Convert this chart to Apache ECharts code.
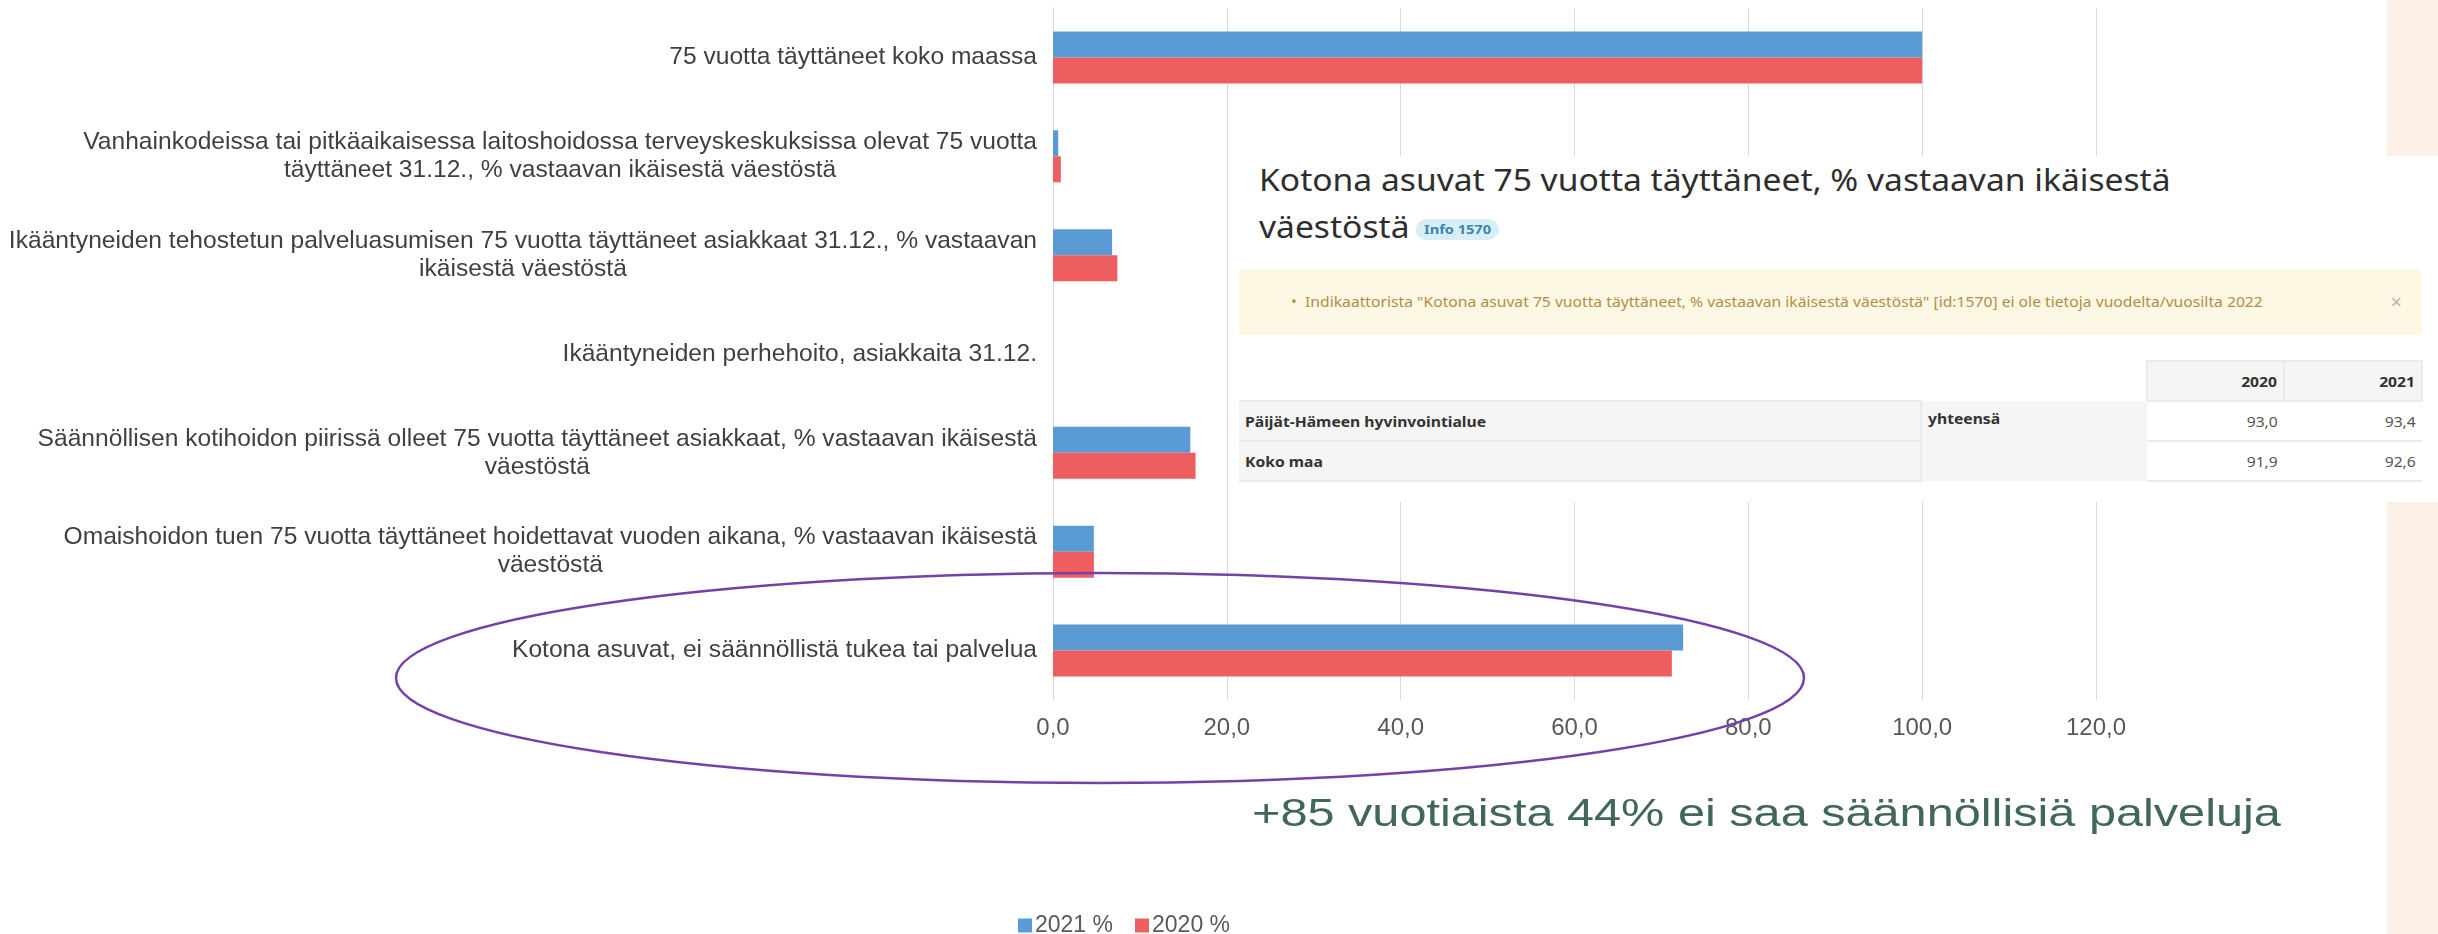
<!DOCTYPE html>
<html>
<head>
<meta charset="utf-8">
<script src="https://cdn.jsdelivr.net/npm/echarts@6/dist/echarts.min.js"></script>
<style>
  html, body { margin: 0; padding: 0; background: #fff; }
  #chart { position: absolute; left: 0; top: 0; width: 2438px; height: 934px; }
  .peach { position: absolute; left: 2387px; width: 51px; background: #fcefe6; }
  #panel {
    position: absolute; left: 1230px; top: 156px; width: 1208px; height: 346px;
    background: #fff; font-family: "Noto Sans", sans-serif; color: #333;
  }
  .sx { display: inline-block; transform: scaleX(1.12); transform-origin: left center; white-space: nowrap; }
  .sxr { display: inline-block; transform: scaleX(1.12); transform-origin: right center; white-space: nowrap; }
  #title {
    position: absolute; left: 29px; top: 0; font-size: 30px; line-height: 47px; white-space: nowrap;
    color: #2e2e2e; transform: scaleX(1.12); transform-origin: left top;
  }
  .badge {
    display: inline-block; font-size: 13px; font-weight: bold; line-height: 21px;
    padding: 0 7px; border-radius: 11px; background: #d9edf7; color: #3a87ad;
    vertical-align: 4px; margin-left: 6px;
  }
  #alert {
    position: absolute; left: 9px; top: 113px; width: 1183px; height: 66px;
    background: #fcf8e3; border-radius: 4px; color: #b48c48; font-size: 14px;
  }
  #alert .msg { position: absolute; left: 52px; top: 0; line-height: 66px; }
  #alert .close { position: absolute; right: 20px; top: 0; line-height: 66px; font-size: 20px; color: #b5b5b5; }
  table {
    position: absolute; left: 9px; top: 204px; border-collapse: collapse; table-layout: fixed;
    font-size: 14px;
  }
  td, th { padding: 0 6px; height: 38px; }
  th { background: #f5f5f5; text-align: right; border: 2px solid #ebebeb; }
  th.blank { background: #fff; border: none; }
  td.lab { background: #f5f5f5; font-weight: bold; border-top: 2px solid #ebebeb; border-bottom: 2px solid #ebebeb; }
  td.grp { background: #f5f5f5; font-weight: bold; vertical-align: top; padding-top: 8px; border-left: 2px solid #ebebeb; }
  td.val { text-align: right; color: #555; border-bottom: 2px solid #ebebeb; }
</style>
</head>
<body>
<div id="chart"></div>
<div class="peach" style="top:0;height:156px"></div>
<div class="peach" style="top:502px;height:432px"></div>
<div id="panel">
  <div id="title">Kotona asuvat 75 vuotta täyttäneet, % vastaavan ikäisestä<br>väestöstä<span class="badge">Info 1570</span></div>
  <div id="alert">
    <span class="msg sx">•&nbsp; Indikaattorista "Kotona asuvat 75 vuotta täyttäneet, % vastaavan ikäisestä väestöstä" [id:1570] ei ole tietoja vuodelta/vuosilta 2022</span>
    <span class="close">×</span>
  </div>
  <table>
    <colgroup><col style="width:682px"><col style="width:226px"><col style="width:137px"><col style="width:138px"></colgroup>
    <tr><th class="blank"></th><th class="blank"></th><th><span class="sxr">2020</span></th><th><span class="sxr">2021</span></th></tr>
    <tr><td class="lab"><span class="sx">Päijät-Hämeen hyvinvointialue</span></td><td class="grp" rowspan="2"><span class="sx">yhteensä</span></td><td class="val"><span class="sxr">93,0</span></td><td class="val"><span class="sxr">93,4</span></td></tr>
    <tr><td class="lab"><span class="sx">Koko maa</span></td><td class="val"><span class="sxr">91,9</span></td><td class="val"><span class="sxr">92,6</span></td></tr>
  </table>
</div>
<script>
// indikaattorit (rivinvaihdot kuten alkuperäisessä kuvassa)
const categories = [
  '75 vuotta täyttäneet koko maassa',
  'Vanhainkodeissa tai pitkäaikaisessa laitoshoidossa terveyskeskuksissa olevat 75 vuotta\ntäyttäneet 31.12., % vastaavan ikäisestä väestöstä',
  'Ikääntyneiden tehostetun palveluasumisen 75 vuotta täyttäneet asiakkaat 31.12., % vastaavan\nikäisestä väestöstä',
  'Ikääntyneiden perhehoito, asiakkaita 31.12.',
  'Säännöllisen kotihoidon piirissä olleet 75 vuotta täyttäneet asiakkaat, % vastaavan ikäisestä\nväestöstä',
  'Omaishoidon tuen 75 vuotta täyttäneet hoidettavat vuoden aikana, % vastaavan ikäisestä\nväestöstä',
  'Kotona asuvat, ei säännöllistä tukea tai palvelua'
]
const values2021 = [100, 0.6, 6.8, 0, 15.8, 4.7, 72.5]
const values2020 = [100, 0.9, 7.4, 0, 16.4, 4.7, 71.2]
const seriesNames = ['2021 %', '2020 %']
const note = '+85 vuotiaista 44% ei saa säännöllisiä palveluja'

const chart = echarts.init(document.getElementById('chart'))

const fmt = v => v.toFixed(1).replace('.', ',')

chart.setOption({
  animation: false,
  color: ['#5b9bd5', '#ee5e5e'],
  textStyle: { fontFamily: '"Liberation Sans", Arial, sans-serif' },
  grid: { left: 1053, right: 342, top: 8, bottom: 234, outerBoundsMode: 'none' },
  legend: {
    data: seriesNames,
    left: 1013,
    top: 909,
    icon: 'rect',
    itemWidth: 14,
    itemHeight: 14,
    itemGap: 22,
    textStyle: { fontSize: 23, color: '#595959', padding: [0, 0, 0, -2] }
  },
  xAxis: {
    type: 'value',
    min: 0,
    max: 120,
    interval: 20,
    axisLine: { show: false },
    axisTick: { show: false },
    splitLine: { lineStyle: { color: '#d9d9d9', width: 1 } },
    axisLabel: { formatter: fmt, fontSize: 24, color: '#595959', margin: 16 }
  },
  yAxis: {
    type: 'category',
    inverse: true,
    data: categories,
    axisLine: { show: true, lineStyle: { color: '#d9d9d9', width: 1 } },
    axisTick: { show: false },
    axisLabel: {
      margin: 16,
      formatter: v => v.split('\n').map(l => '{c|' + l + '}').join('\n'),
      rich: {
        c: { align: 'center', fontSize: 24.6, lineHeight: 28, color: '#404040' }
      }
    }
  },
  series: [
    { name: seriesNames[0], type: 'bar', data: values2021, barWidth: 26, barGap: '0%' },
    { name: seriesNames[1], type: 'bar', data: values2020, barWidth: 26, barGap: '0%' }
  ],
  graphic: [
    {
      type: 'ellipse',
      z: 100,
      shape: { cx: 1100, cy: 678, rx: 704, ry: 105 },
      style: { fill: 'none', stroke: '#7540a8', lineWidth: 2.5 }
    },
    {
      type: 'text',
      z: 100,
      x: 1252,
      y: 816,
      scaleX: 1.28,
      style: {
        text: note,
        x: 0,
        y: 0,
        font: '38px "Liberation Sans", Arial, sans-serif',
        fill: '#41675a',
        textAlign: 'left',
        textVerticalAlign: 'middle'
      }
    }
  ]
})
</script>
</body>
</html>
